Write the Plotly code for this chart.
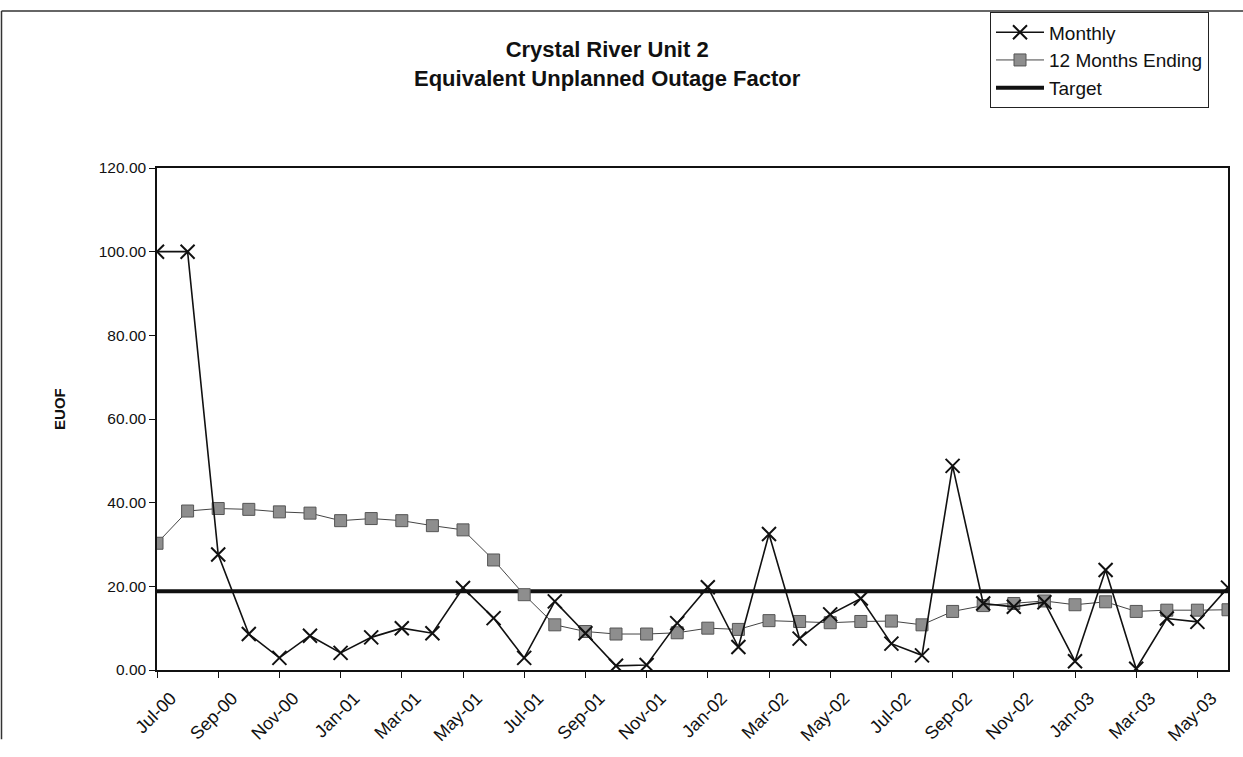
"""
Crystal River Unit 2 - Equivalent Unplanned Outage Factor (EUOF)
Monthly values, 12 months ending, and target, Jul-00 to Jun-03.
"""

import plotly.graph_objects as go

# Chart data
months = [
    "Jul-00", "Aug-00", "Sep-00", "Oct-00", "Nov-00", "Dec-00",
    "Jan-01", "Feb-01", "Mar-01", "Apr-01", "May-01", "Jun-01",
    "Jul-01", "Aug-01", "Sep-01", "Oct-01", "Nov-01", "Dec-01",
    "Jan-02", "Feb-02", "Mar-02", "Apr-02", "May-02", "Jun-02",
    "Jul-02", "Aug-02", "Sep-02", "Oct-02", "Nov-02", "Dec-02",
    "Jan-03", "Feb-03", "Mar-03", "Apr-03", "May-03", "Jun-03",
]
monthly = [
    100.0, 100.0, 27.6, 8.6, 2.9, 8.2,
    4.1, 7.8, 10.0, 8.8, 19.6, 12.4,
    2.9, 16.4, 8.8, 1.0, 1.2, 11.2,
    19.8, 5.5, 32.5, 7.5, 13.3, 17.1,
    6.3, 3.5, 48.8, 15.9, 15.1, 16.2,
    2.1, 23.9, 0.3, 12.3, 11.5, 19.7,
]
twelve_months = [
    30.3, 38.0, 38.6, 38.4, 37.8, 37.5,
    35.7, 36.2, 35.7, 34.5, 33.5, 26.3,
    18.0, 10.8, 9.2, 8.6, 8.6, 8.9,
    10.0, 9.7, 11.8, 11.6, 11.3, 11.6,
    11.7, 10.8, 14.0, 15.4, 15.9, 16.5,
    15.6, 16.3, 14.0, 14.3, 14.3, 14.4,
]
target = [18.8] * len(months)
tick_labels = months[::2]

# Figure geometry in pixels (page body margin is removed below)
W, H = 1243, 757
L, R, T, B = 157, 15, 164, 72
PW, PH = W - L - R, H - T - B


def px_x(x):
    return (x - L) / PW


def px_y(y):
    return (H - B - y) / PH


FONT = "Liberation Sans, Arial, sans-serif"

fig = go.Figure()

fig.add_trace(go.Scatter(
    x=months, y=target, name="Target", legendrank=3,
    mode="lines",
    line=dict(color="#111111", width=4),
))
fig.add_trace(go.Scatter(
    x=months, y=twelve_months, name="12 Months Ending", legendrank=2,
    mode="lines+markers",
    line=dict(color="#444444", width=1),
    marker=dict(symbol="square", size=12, color="#8e8e8e",
                line=dict(color="#555555", width=1)),
))
fig.add_trace(go.Scatter(
    x=months, y=monthly, name="Monthly", legendrank=1,
    mode="lines+markers",
    line=dict(color="#111111", width=1.6),
    marker=dict(symbol="x-thin-open", size=14, color="#111111",
                line=dict(color="#111111", width=2)),
))

# Outer chart frame (top and left edges visible in the scan)
fig.add_shape(type="line", xref="paper", yref="paper",
              x0=px_x(1.5), x1=px_x(W), y0=px_y(1), y1=px_y(1),
              line=dict(color="#333333", width=1.5))
fig.add_shape(type="line", xref="paper", yref="paper",
              x0=px_x(1.5), x1=px_x(1.5), y0=px_y(1), y1=px_y(H),
              line=dict(color="#333333", width=1.5))

# Title
fig.add_annotation(
    xref="paper", yref="paper", x=px_x(607), y=px_y(56.5),
    text="<b>Crystal River Unit 2<br>Equivalent Unplanned Outage Factor</b>",
    showarrow=False, font=dict(family=FONT, size=22, color="#111111"),
    xanchor="center", yanchor="middle", align="center",
)
# Y axis title
fig.add_annotation(
    xref="paper", yref="paper", x=px_x(60), y=px_y(414),
    text="<b>EUOF</b>", textangle=-90, showarrow=False,
    font=dict(family=FONT, size=15, color="#111111"),
    xanchor="center", yanchor="middle",
)

fig.update_layout(
    width=W, height=H,
    margin=dict(l=L, r=R, t=T, b=B),
    paper_bgcolor="white", plot_bgcolor="white",
    font=dict(family=FONT, size=15, color="#111111"),
    showlegend=True,
    legend=dict(
        x=px_x(990), y=px_y(2.5), xanchor="left", yanchor="top",
        bordercolor="#222222", borderwidth=1, bgcolor="white",
        font=dict(family=FONT, size=19, color="#111111"),
        tracegroupgap=0, itemwidth=48,
    ),
    xaxis=dict(
        type="category", categoryorder="array", categoryarray=months,
        range=[0, len(months) - 1],
        tickmode="array", tickvals=tick_labels, ticktext=tick_labels,
        tickangle=-45, ticks="outside", ticklen=6, tickcolor="#111111",
        ticklabelshift=14, ticklabelstandoff=3,
        showgrid=False, zeroline=False,
        showline=True, linecolor="#111111", linewidth=1.5, mirror=True,
        tickfont=dict(family=FONT, size=18),
    ),
    yaxis=dict(
        range=[0, 120], dtick=20, tickformat=".2f",
        ticks="outside", ticklen=6, tickcolor="#111111",
        showgrid=False, zeroline=False,
        showline=True, linecolor="#111111", linewidth=1.5, mirror=True,
        tickfont=dict(family=FONT, size=15.5),
    ),
)

fig.write_html(
    "out.html",
    config={"displayModeBar": False},
    post_script="document.body.style.margin = '0';",
)
